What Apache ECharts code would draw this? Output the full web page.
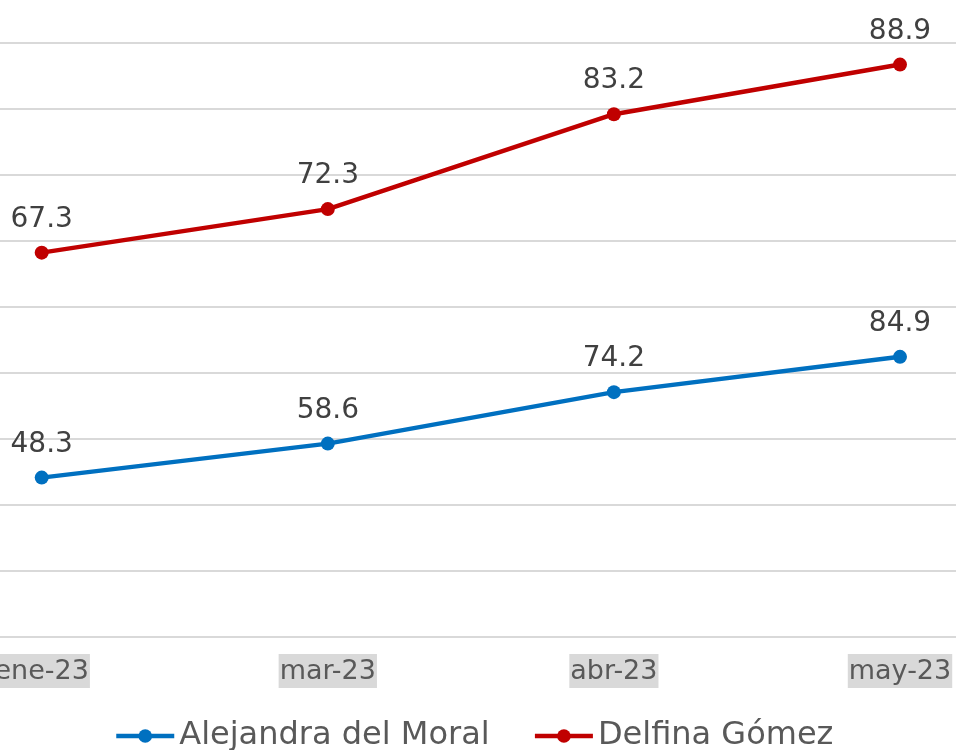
<!DOCTYPE html>
<html>
<head>
<meta charset="utf-8">
<script src="https://cdn.jsdelivr.net/npm/echarts@6/dist/echarts.min.js"></script>
<style>
html,body{margin:0;padding:0;background:#fff;}
#chart{width:956px;height:750px;}
</style>
</head>
<body>
<div id="chart"></div>
<script>
var categories = ['ene-23', 'mar-23', 'abr-23', 'may-23'];
var seriesNames = ['Alejandra del Moral', 'Delfina Gómez'];
var alejandraValues = [48.3, 58.6, 74.2, 84.9];
var delfinaValues = [67.3, 72.3, 83.2, 88.9];

var chart = echarts.init(document.getElementById('chart'), null, {renderer: 'canvas'});
var FONT = 'DejaVu Sans';
var labelCfg = {
  show: true,
  position: 'top',
  distance: 12,
  fontFamily: FONT,
  fontSize: 28,
  color: '#404040',
  formatter: function (p) { return p.value.toFixed(1); }
};
var hidden = {axisLabel: {show: false}, axisLine: {show: false}, axisTick: {show: false}, splitLine: {show: false}};
chart.setOption({
  animation: false,
  backgroundColor: '#ffffff',
  grid: [
    {left: 0, right: 0, top: 43, bottom: 113, containLabel: false, outerBoundsMode: 'none'},
    {left: 41.7, right: 56, top: 43, bottom: 113, containLabel: false, outerBoundsMode: 'none'}
  ],
  legend: {
    data: seriesNames,
    left: 109,
    top: 715,
    itemWidth: 58,
    itemHeight: 17,
    itemGap: 43,
    lineStyle: {width: 4.5},
    textStyle: {fontFamily: FONT, fontSize: 32, color: '#595959'}
  },
  xAxis: [
    Object.assign({type: 'value', gridIndex: 0, min: 0, max: 1}, hidden),
    {
      type: 'category',
      gridIndex: 1,
      data: categories,
      boundaryGap: false,
      axisLine: {show: false},
      axisTick: {show: false},
      splitLine: {show: false},
      axisLabel: {
        fontFamily: FONT,
        fontSize: 27,
        color: '#595959',
        backgroundColor: '#d9d9d9',
        padding: [4, 1, 3, 1],
        margin: 17,
        showMinLabel: true,
        showMaxLabel: true
      }
    }
  ],
  yAxis: [
    {
      type: 'value', gridIndex: 0, min: 0, max: 180, interval: 20,
      axisLabel: {show: false}, axisLine: {show: false}, axisTick: {show: false},
      splitLine: {show: true, lineStyle: {color: '#d9d9d9', width: 2}}
    },
    Object.assign({type: 'value', gridIndex: 1, min: 0, max: 180}, hidden),
    Object.assign({type: 'value', gridIndex: 1, min: 23.15, max: 91.38}, hidden)
  ],
  series: [
    {
      name: seriesNames[0], type: 'line', xAxisIndex: 1, yAxisIndex: 1,
      data: alejandraValues,
      symbol: 'circle', symbolSize: 14,
      lineStyle: {color: '#0070c0', width: 4.5},
      itemStyle: {color: '#0070c0'},
      label: labelCfg
    },
    {
      name: seriesNames[1], type: 'line', xAxisIndex: 1, yAxisIndex: 2,
      data: delfinaValues,
      symbol: 'circle', symbolSize: 14,
      lineStyle: {color: '#c00000', width: 4.5},
      itemStyle: {color: '#c00000'},
      label: labelCfg
    }
  ]
});
</script>
</body>
</html>
